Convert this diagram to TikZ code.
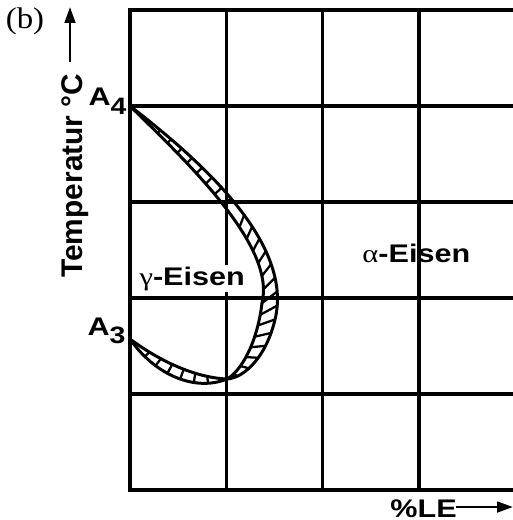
\documentclass[tikz,border=0pt]{standalone}
\usepackage{fontspec}
\setmainfont{Liberation Serif}
\setsansfont{Liberation Sans}
\usetikzlibrary{arrows.meta, positioning, calc, decorations.markings}
\definecolor{ink}{HTML}{000000}

\begin{document}
\begin{tikzpicture}[
  x=0.02cm, y=-0.02cm,
  >={Triangle[length=9pt, width=6pt]},
  gridline/.style={ink, line width=2pt, line cap=rect},
  bandline/.style={ink, line width=1.7pt},
  rung/.style={ink, line width=1.3pt},
  lbl/.style={font=\fontsize{14.5}{16}\selectfont\sffamily\bfseries, text=ink, inner sep=0pt, xscale=1.2},
]

\useasboundingbox (0,0) rectangle (513,520);

% Dimensions (pixel grid of the sheet)
\pgfmathsetmacro{\gx}{130}     % left axis
\pgfmathsetmacro{\gy}{10}      % top line
\pgfmathsetmacro{\cw}{96.3}    % column width
\pgfmathsetmacro{\ch}{96}      % row height

% --- Grid ---
\foreach \i in {0,...,5}
  \draw[gridline] (\gx, \gy+\i*\ch) -- (513, \gy+\i*\ch);
\foreach \i in {0,...,3}
  \draw[gridline] (\gx+\i*\cw, \gy) -- (\gx+\i*\cw, \gy+5*\ch);

% Points on the temperature axis
\coordinate (A4) at (\gx, \gy+\ch);
\coordinate (A3) at (\gx, 339);
\coordinate (pinch) at (227, 379);

% --- Upper band (A4) ---
\begin{scope}
  \clip (A4) .. controls (200,160) and (290,240) .. (276,315)
        .. controls (268,355) and (245,378) .. (pinch)
        .. controls (240,372) and (257,345) .. (262,303)
        .. controls (276,246) and (188,163) .. (A4) -- cycle;
  \path[decorate, decoration={markings,
      mark=between positions 0.03 and 0.42 step 8pt with
        {\draw[rung] (0,-14pt) -- (0,14pt);},
      mark=between positions 0.45 and 0.98 step 8pt with
        {\draw[rung] (9pt,-14pt) -- (-9pt,14pt);}}]
    (A4) .. controls (200,160) and (290,240) .. (276,315)
    .. controls (268,355) and (245,378) .. (pinch);
\end{scope}
\draw[bandline] (A4) .. controls (200,160) and (290,240) .. (276,315)
  .. controls (268,355) and (245,378) .. (pinch);
\draw[bandline] (A4) .. controls (188,163) and (276,246) .. (262,303)
  .. controls (257,345) and (240,372) .. (pinch);

% --- Lower band (A3) ---
\begin{scope}
  \clip (A3) .. controls (165,365) and (200,378) .. (pinch)
        .. controls (195,392) and (155,375) .. (A3) -- cycle;
  \path[decorate, decoration={markings,
      mark=between positions 0.08 and 0.95 step 8pt with
        {\draw[rung] (0,-14pt) -- (0,14pt);}}]
    (A3) .. controls (155,375) and (195,392) .. (pinch);
\end{scope}
\draw[bandline] (A3) .. controls (165,365) and (200,378) .. (pinch);
\draw[bandline] (A3) .. controls (155,375) and (195,392) .. (pinch);

% --- Labels ---
\node[lbl, anchor=base east] (labA4) at (127, \gy+\ch)
  {A\raisebox{-5pt}{\fontsize{13.5}{15}\selectfont 4}};
\node[lbl, anchor=base east] (labA3) at (126, 335)
  {A\raisebox{-5pt}{\fontsize{13.5}{15}\selectfont 3}};
\node[lbl, anchor=base west, fill=white, inner sep=1pt] (gamma) at (137, 285)
  {{\rmfamily\mdseries γ}-Eisen};
\node[lbl, anchor=base west] (alpha) at (362, 262)
  {{\rmfamily\mdseries α}-Eisen};

% Axis captions
\node[font=\fontsize{17}{19}\selectfont\rmfamily, text=ink, inner sep=0pt, xscale=1.1] (tag) at (25, 21) {(b)};
\node[font=\fontsize{17}{19}\selectfont\sffamily\bfseries, text=ink, inner sep=0pt,
  rotate=90, anchor=base west] (ylabel) at (82, 278) {Temperatur °C};
\node[lbl, anchor=base west] (xlabel) at (390, 517) {\%LE};

% Axis arrows
\coordinate (ybot) at (70, 62);
\coordinate (ytop) at (70, 7);
\draw[->, ink, line width=1.6pt] (ybot) -- (ytop);
\coordinate (xfoot) at (456, 507);
\coordinate (xtip) at (513, 507);
\draw[->, ink, line width=1.6pt] (xfoot) -- (xtip);

\end{tikzpicture}
\end{document}
